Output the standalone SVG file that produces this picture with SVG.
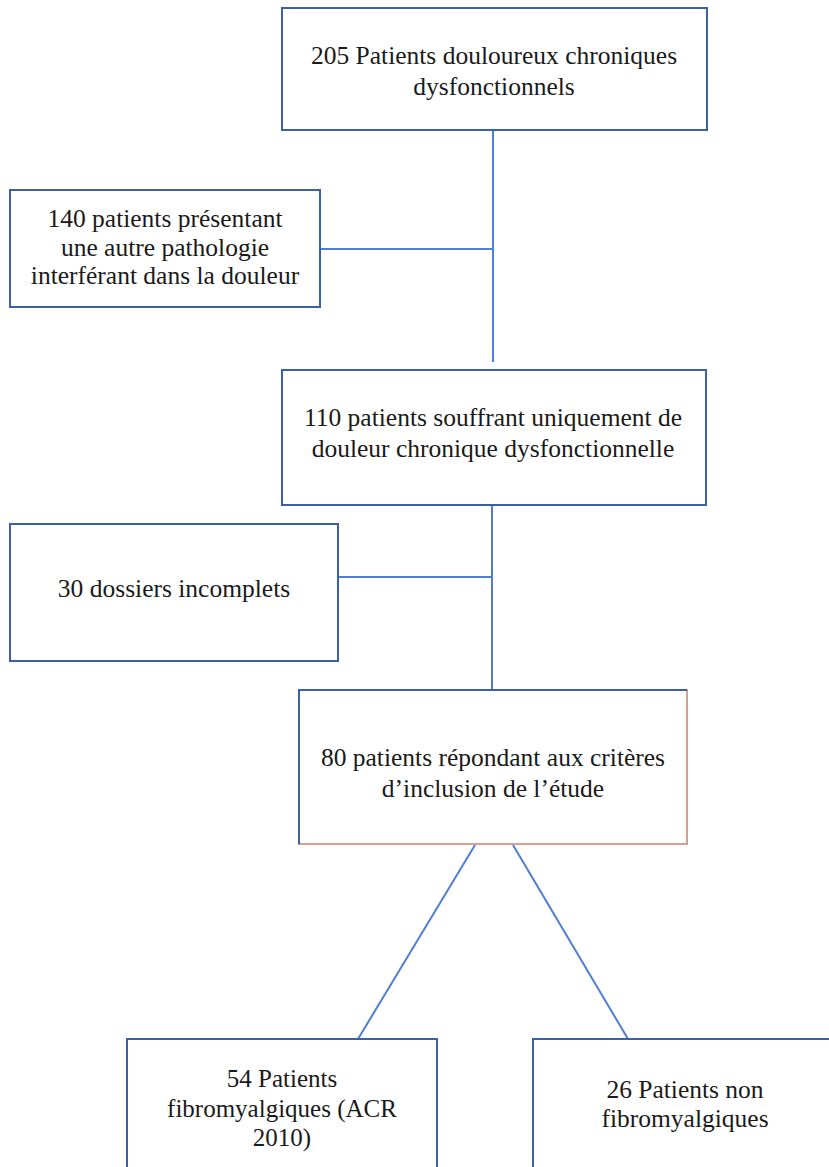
<svg xmlns="http://www.w3.org/2000/svg" width="829" height="1167" viewBox="0 0 829 1167">
<style>
.box{fill:#fff;stroke:#3b5fa8;stroke-width:2}
.ln{stroke:#4f7fd4;stroke-width:2;fill:none}
</style>
<rect width="829" height="1167" fill="#fff"/>
<g id="connectors">
<line class="ln" x1="493" y1="131" x2="493" y2="362"/>
<line class="ln" x1="320" y1="249" x2="493" y2="249"/>
<line class="ln" x1="492" y1="506" x2="492" y2="691"/>
<line class="ln" x1="338" y1="577" x2="492" y2="577"/>
<line class="ln" x1="475" y1="845" x2="358" y2="1039"/>
<line class="ln" x1="513" y1="845" x2="628" y2="1039"/>
</g>
<g font-family="Liberation Serif, serif" font-size="25.5" fill="#1a1a1a" text-anchor="middle">
<g id="n1"><rect class="box" x="282" y="8" width="425" height="122"/>
<text x="494" y="64">205 Patients douloureux chroniques</text><text x="494" y="95">dysfonctionnels</text></g>
<g id="n2"><rect class="box" x="10" y="190" width="310" height="117"/>
<text x="165" y="227">140 patients présentant</text><text x="165" y="256">une autre pathologie</text><text x="165" y="284">interférant dans la douleur</text></g>
<g id="n3"><rect class="box" x="282" y="370" width="424" height="135"/>
<text x="493" y="426">110 patients souffrant uniquement de</text><text x="493" y="457">douleur chronique dysfonctionnelle</text></g>
<g id="n4"><rect class="box" x="10" y="524" width="328" height="137"/>
<text x="174" y="597">30 dossiers incomplets</text></g>
<g id="n5"><rect x="299" y="690" width="388" height="154" fill="#fff" stroke="#d4a090" stroke-width="2"/>
<path d="M299 844V690H687" fill="none" stroke="#3b5fa8" stroke-width="2"/>
<text x="493" y="766">80 patients répondant aux critères</text><text x="493" y="797">d’inclusion de l’étude</text></g>
<g id="n6" font-size="25"><rect class="box" x="127" y="1039" width="310" height="140"/>
<text x="282" y="1087">54 Patients</text><text x="282" y="1117">fibromyalgiques (ACR</text><text x="282" y="1146">2010)</text></g>
<g id="n7"><rect class="box" x="533" y="1039" width="310" height="140"/>
<text x="685" y="1098">26 Patients non</text><text x="685" y="1127">fibromyalgiques</text></g>
</g>
</svg>
